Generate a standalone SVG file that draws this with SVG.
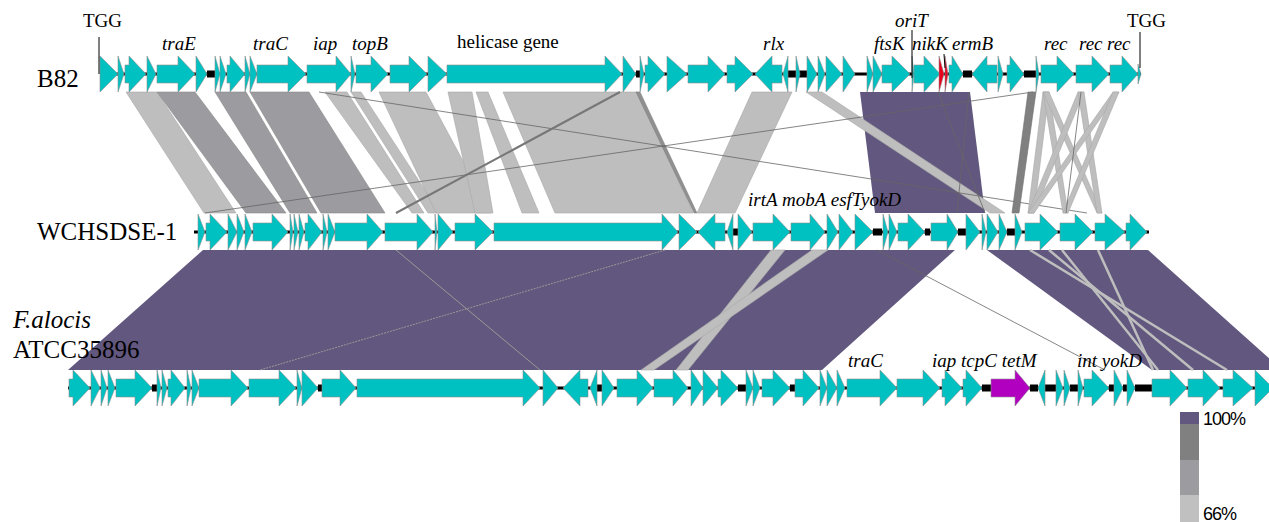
<svg xmlns="http://www.w3.org/2000/svg" width="1269" height="522" viewBox="0 0 1269 522">
<style>
.g{fill:#00C1C1;stroke:#8f8f8f;stroke-width:.6}
.red{fill:#E8001E;stroke:#8f8f8f;stroke-width:.6}
.mag{fill:#B200C0;stroke:#8f8f8f;stroke-width:.6}
.bb{stroke:#000;stroke-width:3}
.tk{stroke:#000;stroke-width:7}
.lt{fill:#BEBEBE;stroke:#a8a8a8;stroke-width:.6}
.md{fill:#9C9BA0;stroke:#8a8a8a;stroke-width:.6}
.dk{fill:#808080;stroke:#707070;stroke-width:.6}
.pu{fill:#62577E}
.ln{stroke:#666;stroke-width:.8;fill:none}
.lab{font-family:"Liberation Serif","Times New Roman",serif;font-size:19px;fill:#000}
.it{font-style:italic}
.big{font-family:"Liberation Serif","Times New Roman",serif;font-size:25px;fill:#000}
.leg{font-family:"Liberation Sans",Arial,sans-serif;font-size:18px;fill:#000}
.tick{stroke:#000;stroke-width:1}
</style>
<g id="links">
  <!-- B82 to WCHSDSE-1 -->
  <polygon class="lt" points="126,92 157,92 236,213 204,213"/>
  <polygon class="md" points="157,92 195,92 286,213 246,213"/>
  <polygon class="md" points="215,92 246,92 317,213 290,213"/>
  <polygon class="md" points="250,92 309,92 385,213 321,213"/>
  <polygon class="lt" points="325,92 347,92 424,213 412,213"/>
  <polygon class="lt" points="351,92 361,92 440,213 428,213"/>
  <polygon class="lt" points="379,92 426,92 491,213 436,213"/>
  <polygon class="lt" points="448,92 472,92 493,213 475,213"/>
  <polygon class="lt" points="476,92 488,92 539,213 522,213"/>
  <polygon class="lt" points="503,92 638,92 693,213 555,213"/>
  <polygon fill="#909090" stroke="#7a7a7a" stroke-width=".5" points="636,92 640,92 697,213 694,213"/>
  <polygon class="lt" points="752,92 792,92 735,213 697,213"/>
  <polygon class="pu" points="860,92 970,92 985,213 875,213"/>
  <polygon class="lt" points="806,92 822,92 1005,213 990,213"/>
  <line class="ln" x1="938" y1="92" x2="985" y2="213" stroke="#222"/>
  <line class="ln" x1="969" y1="92" x2="957" y2="213" stroke="#222"/>
  <line class="ln" x1="319" y1="92" x2="1087" y2="213"/>
  <line class="ln" x1="205" y1="213" x2="1033" y2="92"/>
  <line x1="620" y1="92" x2="396" y2="213" stroke="#777" stroke-width="2"/>
  <polygon class="dk" points="1028,92 1036,92 1019,213 1012,213"/>
  <polygon class="lt" points="1043,92 1049,92 1034,213 1028,213"/>
  <polygon class="lt" points="1043,92 1049,92 1068,213 1063,213"/>
  <polygon class="lt" points="1043,92 1049,92 1102,213 1097,213"/>
  <polygon class="lt" points="1078,92 1084,92 1034,213 1028,213"/>
  <polygon class="lt" points="1078,92 1084,92 1102,213 1097,213"/>
  <polygon class="lt" points="1113,92 1119,92 1034,213 1028,213"/>
  <polygon class="lt" points="1113,92 1119,92 1068,213 1063,213"/>
  <line class="ln" x1="1081" y1="92" x2="1066" y2="213"/>
  <!-- WCHSDSE-1 to F. alocis -->
  <polygon class="pu" points="203,250 955,250 822,370 68,370"/>
  <polygon class="pu" points="987,250 1148,250 1282,370 1152,370"/>
  <polygon class="lt" points="771,250 785,250 688,370 676,370"/>
  <polygon class="lt" points="812,250 828,250 654,370 641,370"/>
  <line x1="396" y1="250" x2="540" y2="370" stroke="#999" stroke-width="1"/>
  <line x1="665" y1="250" x2="260" y2="370" stroke="#999" stroke-width="1" stroke-dasharray="2 1"/>
  <line class="ln" x1="877" y1="250" x2="1105" y2="370"/>
  <line x1="1062" y1="250" x2="1158" y2="370" stroke="#BEBEBE" stroke-width="2.5"/>
  <line x1="1098" y1="250" x2="1153" y2="370" stroke="#BEBEBE" stroke-width="2.5"/>
  <line x1="1049" y1="250" x2="1193" y2="370" stroke="#BEBEBE" stroke-width="2.5"/>
  <line x1="1030" y1="250" x2="1227" y2="370" stroke="#BEBEBE" stroke-width="2.5"/>
</g>
<g id="track-b82">
  <line class="bb" x1="100" y1="74" x2="1141" y2="74"/>
  <line class="tk" x1="207" y1="74" x2="215" y2="74"/>
  <line class="tk" x1="636" y1="74" x2="640" y2="74"/>
  <line class="tk" x1="788" y1="74" x2="807" y2="74"/>
  <line class="tk" x1="963" y1="74" x2="972" y2="74"/>
  <line class="tk" x1="1024" y1="74" x2="1037" y2="74"/>
  <polygon class="g" points="100,56 118,74 100,92"/>
  <polygon class="g" points="118,56 124,74 118,92"/>
  <polygon class="g" points="125,65 129,65 129,56 146,74 129,92 129,83 125,83"/>
  <polygon class="g" points="147,56 156,74 147,92"/>
  <polygon class="g" points="157,65 178,65 178,56 195,74 178,92 178,83 157,83"/>
  <polygon class="g" points="196,56 207,74 196,92"/>
  <polygon class="g" points="215,56 220,74 215,92"/>
  <polygon class="g" points="220,56 226,74 220,92"/>
  <polygon class="g" points="227,65 230,65 230,56 245,74 230,92 230,83 227,83"/>
  <polygon class="g" points="245,56 250,74 245,92"/>
  <polygon class="g" points="250,56 257,74 250,92"/>
  <polygon class="g" points="257,65 288,65 288,56 306,74 288,92 288,83 257,83"/>
  <polygon class="g" points="307,65 336,65 336,56 351,74 336,92 336,83 307,83"/>
  <polygon class="g" points="351,56 355,74 351,92"/>
  <polygon class="g" points="356,65 371,65 371,56 388,74 371,92 371,83 356,83"/>
  <polygon class="g" points="390,65 409,65 409,56 427,74 409,92 409,83 390,83"/>
  <polygon class="g" points="428,56 447,74 428,92"/>
  <polygon class="g" points="447,65 605,65 605,56 622,74 605,92 605,83 447,83"/>
  <polygon class="g" points="623,56 636,74 623,92"/>
  <polygon class="g" points="640,56 644,74 640,92"/>
  <polygon class="g" points="645,65 648,65 648,56 665,74 648,92 648,83 645,83"/>
  <polygon class="g" points="667,56 687,74 667,92"/>
  <polygon class="g" points="688,65 708,65 708,56 725,74 708,92 708,83 688,83"/>
  <polygon class="g" points="727,65 735,65 735,56 753,74 735,92 735,83 727,83"/>
  <polygon class="g" points="782,65 772,65 772,56 755,74 772,92 772,83 782,83"/>
  <polygon class="g" points="788,56 783,74 788,92"/>
  <polygon class="g" points="796,56 800,74 796,92"/>
  <polygon class="g" points="807,56 817,74 807,92"/>
  <polygon class="g" points="818,56 825,74 818,92"/>
  <polygon class="g" points="826,56 842,74 826,92"/>
  <polygon class="g" points="843,56 855,74 843,92"/>
  <polygon class="g" points="867,56 873,74 867,92"/>
  <polygon class="g" points="873,56 882,74 873,92"/>
  <polygon class="g" points="882,65 892,65 892,56 910,74 892,92 892,83 882,83"/>
  <polygon class="g" points="912,56 914,74 912,92"/>
  <polygon class="g" points="914,65 924,65 924,56 940,74 924,92 924,83 914,83"/>
  <polygon class="red" points="939,56 944,74 939,92"/>
  <polygon class="red" points="945,56 948,74 945,92"/>
  <polygon class="g" points="949,65 952,65 952,56 963,74 952,92 952,83 949,83"/>
  <polygon class="g" points="997,65 987,65 987,56 972,74 987,92 987,83 997,83"/>
  <polygon class="g" points="998,56 1003,74 998,92"/>
  <polygon class="g" points="1007,65 1010,65 1010,56 1024,74 1010,92 1010,83 1007,83"/>
  <polygon class="g" points="1036,56 1039,74 1036,92"/>
  <polygon class="g" points="1041,65 1057,65 1057,56 1074,74 1057,92 1057,83 1041,83"/>
  <polygon class="g" points="1076,65 1092,65 1092,56 1109,74 1092,92 1092,83 1076,83"/>
  <polygon class="g" points="1110,65 1122,65 1122,56 1138,74 1122,92 1122,83 1110,83"/>
  <polygon class="g" points="1138,64 1141,74 1138,84"/>
  <line class="tick" x1="99" y1="37" x2="99" y2="74"/>
  <line class="tick" x1="912" y1="30" x2="912" y2="78"/>
  <line class="tick" x1="944" y1="54" x2="945" y2="68"/>
  <line class="tick" x1="1140" y1="32" x2="1140" y2="68"/>
</g>
<g id="track-wchsdse1">
  <line class="bb" x1="194" y1="232" x2="1149" y2="232"/>
  <line class="tk" x1="733" y1="232" x2="738" y2="232"/>
  <line class="tk" x1="873" y1="232" x2="882" y2="232"/>
  <line class="tk" x1="925" y1="232" x2="930" y2="232"/>
  <line class="tk" x1="958" y1="232" x2="966" y2="232"/>
  <line class="tk" x1="1007" y1="232" x2="1015" y2="232"/>
  <polygon class="g" points="198,214 205,232 198,250"/>
  <polygon class="g" points="206,223 210,223 210,214 227,232 210,250 210,241 206,241"/>
  <polygon class="g" points="228,214 237,232 228,250"/>
  <polygon class="g" points="237,214 244,232 237,250"/>
  <polygon class="g" points="245,214 252,232 245,250"/>
  <polygon class="g" points="253,223 272,223 272,214 288,232 272,250 272,241 253,241"/>
  <polygon class="g" points="290,214 293,232 290,250"/>
  <polygon class="g" points="294,214 298,232 294,250"/>
  <polygon class="g" points="299,214 304,232 299,250"/>
  <polygon class="g" points="305,223 308,223 308,214 322,232 308,250 308,241 305,241"/>
  <polygon class="g" points="323,214 327,232 323,250"/>
  <polygon class="g" points="328,214 335,232 328,250"/>
  <polygon class="g" points="335,223 367,223 367,214 383,232 367,250 367,241 335,241"/>
  <polygon class="g" points="385,223 417,223 417,214 433,232 417,250 417,241 385,241"/>
  <polygon class="g" points="435,214 437,232 435,250"/>
  <polygon class="g" points="438,214 453,232 438,250"/>
  <polygon class="g" points="455,223 475,223 475,214 493,232 475,250 475,241 455,241"/>
  <polygon class="g" points="494,223 662,223 662,214 678,232 662,250 662,241 494,241"/>
  <polygon class="g" points="679,214 697,232 679,250"/>
  <polygon class="g" points="725,223 715,223 715,214 698,232 715,250 715,241 725,241"/>
  <polygon class="g" points="733,214 727,232 733,250"/>
  <polygon class="g" points="738,214 752,232 738,250"/>
  <polygon class="g" points="753,223 773,223 773,214 790,232 773,250 773,241 753,241"/>
  <polygon class="g" points="791,223 810,223 810,214 825,232 810,250 810,241 791,241"/>
  <polygon class="g" points="827,214 838,232 827,250"/>
  <polygon class="g" points="839,214 853,232 839,250"/>
  <polygon class="g" points="855,214 873,232 855,250"/>
  <polygon class="g" points="883,214 888,232 883,250"/>
  <polygon class="g" points="889,214 897,232 889,250"/>
  <polygon class="g" points="898,223 908,223 908,214 925,232 908,250 908,241 898,241"/>
  <polygon class="g" points="931,223 947,223 947,214 958,232 947,250 947,241 931,241"/>
  <polygon class="g" points="966,214 980,232 966,250"/>
  <polygon class="g" points="982,214 986,232 982,250"/>
  <polygon class="g" points="987,214 998,232 987,250"/>
  <polygon class="g" points="999,214 1007,232 999,250"/>
  <polygon class="g" points="1015,214 1022,232 1015,250"/>
  <polygon class="g" points="1025,223 1040,223 1040,214 1058,232 1040,250 1040,241 1025,241"/>
  <polygon class="g" points="1060,223 1075,223 1075,214 1093,232 1075,250 1075,241 1060,241"/>
  <polygon class="g" points="1095,223 1105,223 1105,214 1125,232 1105,250 1105,241 1095,241"/>
  <polygon class="g" points="1126,223 1130,223 1130,214 1147,232 1130,250 1130,241 1126,241"/>
</g>
<g id="track-falocis">
  <line class="bb" x1="68" y1="388" x2="1269" y2="388"/>
  <line class="tk" x1="152" y1="388" x2="157" y2="388"/>
  <line class="tk" x1="318" y1="388" x2="322" y2="388"/>
  <line class="tk" x1="597" y1="388" x2="602" y2="388"/>
  <line class="tk" x1="738" y1="388" x2="746" y2="388"/>
  <line class="tk" x1="790" y1="388" x2="795" y2="388"/>
  <line class="tk" x1="982" y1="388" x2="991" y2="388"/>
  <line class="tk" x1="1030" y1="388" x2="1038" y2="388"/>
  <line class="tk" x1="1045" y1="388" x2="1056" y2="388"/>
  <line class="tk" x1="1070" y1="388" x2="1078" y2="388"/>
  <line class="tk" x1="1109" y1="388" x2="1114" y2="388"/>
  <line class="tk" x1="1123" y1="388" x2="1127" y2="388"/>
  <line class="tk" x1="1135" y1="388" x2="1152" y2="388"/>
  <polygon class="g" points="69,379 73,379 73,370 90,388 73,406 73,397 69,397"/>
  <polygon class="g" points="91,370 100,388 91,406"/>
  <polygon class="g" points="101,370 107,388 101,406"/>
  <polygon class="g" points="108,370 115,388 108,406"/>
  <polygon class="g" points="116,379 135,379 135,370 152,388 135,406 135,397 116,397"/>
  <polygon class="g" points="157,370 161,388 157,406"/>
  <polygon class="g" points="162,370 167,388 162,406"/>
  <polygon class="g" points="168,379 171,379 171,370 185,388 171,406 171,397 168,397"/>
  <polygon class="g" points="187,370 191,388 187,406"/>
  <polygon class="g" points="192,370 199,388 192,406"/>
  <polygon class="g" points="199,379 231,379 231,370 248,388 231,406 231,397 199,397"/>
  <polygon class="g" points="249,379 279,379 279,370 296,388 279,406 279,397 249,397"/>
  <polygon class="g" points="297,370 302,388 297,406"/>
  <polygon class="g" points="302,370 318,388 302,406"/>
  <polygon class="g" points="322,379 340,379 340,370 356,388 340,406 340,397 322,397"/>
  <polygon class="g" points="357,379 523,379 523,370 540,388 523,406 523,397 357,397"/>
  <polygon class="g" points="543,370 558,388 543,406"/>
  <polygon class="g" points="588,379 580,379 580,370 563,388 580,406 580,397 588,397"/>
  <polygon class="g" points="597,370 590,388 597,406"/>
  <polygon class="g" points="602,370 614,388 602,406"/>
  <polygon class="g" points="617,379 637,379 637,370 653,388 637,406 637,397 617,397"/>
  <polygon class="g" points="654,379 673,379 673,370 688,388 673,406 673,397 654,397"/>
  <polygon class="g" points="691,370 703,388 691,406"/>
  <polygon class="g" points="703,370 718,388 703,406"/>
  <polygon class="g" points="718,379 721,379 721,370 738,388 721,406 721,397 718,397"/>
  <polygon class="g" points="746,370 753,388 746,406"/>
  <polygon class="g" points="753,370 760,388 753,406"/>
  <polygon class="g" points="762,379 773,379 773,370 790,388 773,406 773,397 762,397"/>
  <polygon class="g" points="795,379 803,379 803,370 819,388 803,406 803,397 795,397"/>
  <polygon class="g" points="820,370 827,388 820,406"/>
  <polygon class="g" points="827,370 837,388 827,406"/>
  <polygon class="g" points="837,370 845,388 837,406"/>
  <polygon class="g" points="847,379 880,379 880,370 897,388 880,406 880,397 847,397"/>
  <polygon class="g" points="897,379 923,379 923,370 940,388 923,406 923,397 897,397"/>
  <polygon class="g" points="942,379 945,379 945,370 962,388 945,406 945,397 942,397"/>
  <polygon class="g" points="963,379 966,379 966,370 982,388 966,406 966,397 963,397"/>
  <polygon class="mag" points="991,379 1015,379 1015,370 1030,388 1015,406 1015,397 991,397"/>
  <polygon class="g" points="1045,370 1038,388 1045,406"/>
  <polygon class="g" points="1056,370 1063,388 1056,406"/>
  <polygon class="g" points="1064,370 1070,388 1064,406"/>
  <polygon class="g" points="1078,370 1083,388 1078,406"/>
  <polygon class="g" points="1084,379 1092,379 1092,370 1109,388 1092,406 1092,397 1084,397"/>
  <polygon class="g" points="1114,370 1123,388 1114,406"/>
  <polygon class="g" points="1127,370 1135,388 1127,406"/>
  <polygon class="g" points="1152,379 1170,379 1170,370 1187,388 1170,406 1170,397 1152,397"/>
  <polygon class="g" points="1188,379 1203,379 1203,370 1220,388 1203,406 1203,397 1188,397"/>
  <polygon class="g" points="1223,379 1233,379 1233,370 1253,388 1233,406 1233,397 1223,397"/>
  <polygon class="g" points="1255,370 1273,388 1255,406"/>
</g>
<g id="labels">
  <text class="lab" x="83" y="27">TGG</text>
  <text class="lab it" x="162" y="50">traE</text>
  <text class="lab it" x="253" y="50">traC</text>
  <text class="lab it" x="313" y="50">iap</text>
  <text class="lab it" x="352" y="50">topB</text>
  <text class="lab" x="457" y="48">helicase gene</text>
  <text class="lab it" x="763" y="50">rlx</text>
  <text class="lab it" x="895" y="27">oriT</text>
  <text class="lab it" x="874" y="50">ftsK</text>
  <text class="lab it" x="912" y="50">nikK</text>
  <text class="lab it" x="952" y="50">ermB</text>
  <text class="lab it" x="1044" y="50">rec</text>
  <text class="lab it" x="1079" y="50">rec</text>
  <text class="lab it" x="1107" y="50">rec</text>
  <text class="lab" x="1127" y="27">TGG</text>
  <text class="lab it" x="748" y="206">irtA mobA esfTyokD</text>
  <text class="lab it" x="848" y="367">traC</text>
  <text class="lab it" x="932" y="367">iap tcpC tetM</text>
  <text class="lab it" x="1077" y="367">int yokD</text>
  <text class="big" x="37" y="87">B82</text>
  <text class="big" x="37" y="240">WCHSDSE-1</text>
  <text class="big it" x="13" y="328">F.alocis</text>
  <text class="big" x="13" y="358">ATCC35896</text>
</g>
<g id="legend">
  <rect x="1180" y="412" width="19" height="12" fill="#62577E"/>
  <rect x="1180" y="424" width="19" height="36" fill="#808080"/>
  <rect x="1180" y="460" width="19" height="35" fill="#9C9BA0"/>
  <rect x="1180" y="495" width="19" height="27" fill="#C0C0C0"/>
  <text class="leg" x="1203" y="425" letter-spacing="-1">100%</text>
  <text class="leg" x="1203" y="520" letter-spacing="-1">66%</text>
</g>
</svg>
